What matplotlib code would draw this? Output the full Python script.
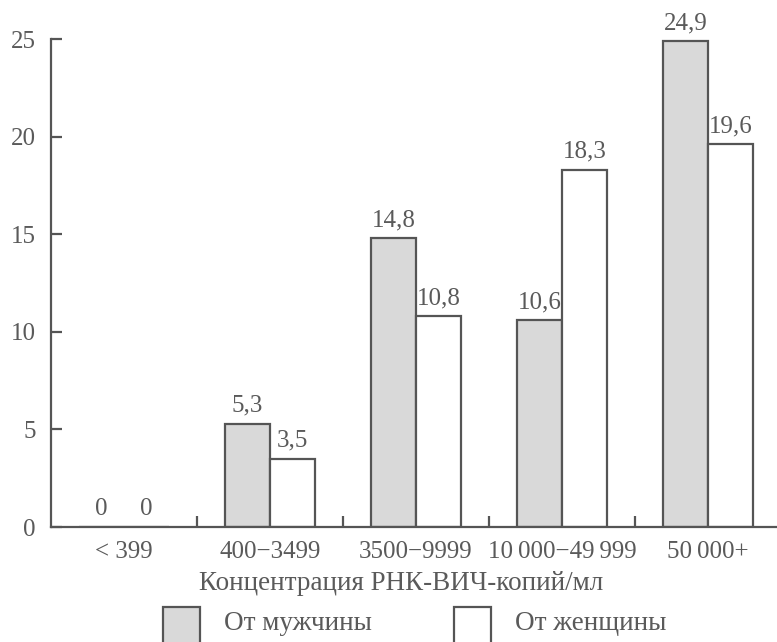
import matplotlib
matplotlib.use("Agg")
import matplotlib.pyplot as plt
from matplotlib.patches import Rectangle

categories = ["< 399", "400\u22123499", "3500\u22129999", "10\u2009000\u221249\u2009999", "50\u2009000+"]
male = [0, 5.3, 14.8, 10.6, 24.9]
female = [0, 3.5, 10.8, 18.3, 19.6]
male_labels = ["0", "5,3", "14,8", "10,6", "24,9"]
female_labels = ["0", "3,5", "10,8", "18,3", "19,6"]
yticks = [0, 5, 10, 15, 20, 25]
xlabel = "Концентрация РНК-ВИЧ-копий/мл"
legend_labels = ["От мужчины", "От женщины"]

plt.rcParams['font.family'] = ['Liberation Serif', 'DejaVu Serif']
TXT = '#5a5a5a'
LINE = '#555555'
GREY = '#d9d9d9'
FS = 18
FS_TXT = 19.5

fig = plt.figure(figsize=(7.77, 6.42), dpi=100)
ax = fig.add_axes([51/777, 115/642, 730/777, 488/642])

x = list(range(len(categories)))
w = 0.31
xm = [i - w/2 for i in x]
xf = [i + w/2 for i in x]
ax.bar(xm, male, width=w, color=GREY, edgecolor=LINE, linewidth=1.6)
ax.bar(xf, female, width=w, color='white', edgecolor=LINE, linewidth=1.6)

for xi, v, s in zip(xm, male, male_labels):
    ax.annotate(s, (xi, v), xytext=(0, 5), textcoords='offset points',
                ha='center', va='bottom', fontsize=FS, color=TXT, annotation_clip=False)
for xi, v, s in zip(xf, female, female_labels):
    ax.annotate(s, (xi, v), xytext=(0, 5), textcoords='offset points',
                ha='center', va='bottom', fontsize=FS, color=TXT, annotation_clip=False)

ax.set_xlim(-0.5, 4.5)
ax.set_ylim(0, 25)
ax.set_yticks(yticks)
ax.set_yticklabels([str(t) for t in yticks])
ax.set_xticks(x)
ax.set_xticklabels(categories)
ax.set_xticks([i + 0.5 for i in x[:-1]], minor=True)

for s in ['top', 'right']:
    ax.spines[s].set_visible(False)
for s in ['left', 'bottom']:
    ax.spines[s].set_color(LINE)
    ax.spines[s].set_linewidth(1.6)

ax.tick_params(axis='y', direction='in', length=8, width=1.6, color=LINE,
               labelcolor=TXT, labelsize=FS, pad=11)
ax.tick_params(axis='x', which='major', length=0, labelcolor=TXT, labelsize=FS, pad=10)
ax.tick_params(axis='x', which='minor', direction='in', length=8, width=1.6, color=LINE)

fig.text(401/777, 1 - 584/642, xlabel, ha='center', va='center', fontsize=FS_TXT, color=TXT)

# legend
for (x0, lab, col) in [(163, legend_labels[0], GREY), (454, legend_labels[1], 'white')]:
    r = Rectangle((x0/777, 1 - 660/642), 37/777, 53/642, transform=fig.transFigure,
                  facecolor=col, edgecolor=LINE, linewidth=1.6, clip_on=False)
    fig.add_artist(r)
    fig.text((x0 + 61)/777, 1 - 623/642, lab, ha='left', va='center', fontsize=FS_TXT, color=TXT)

fig.savefig("out.png", dpi=100)
